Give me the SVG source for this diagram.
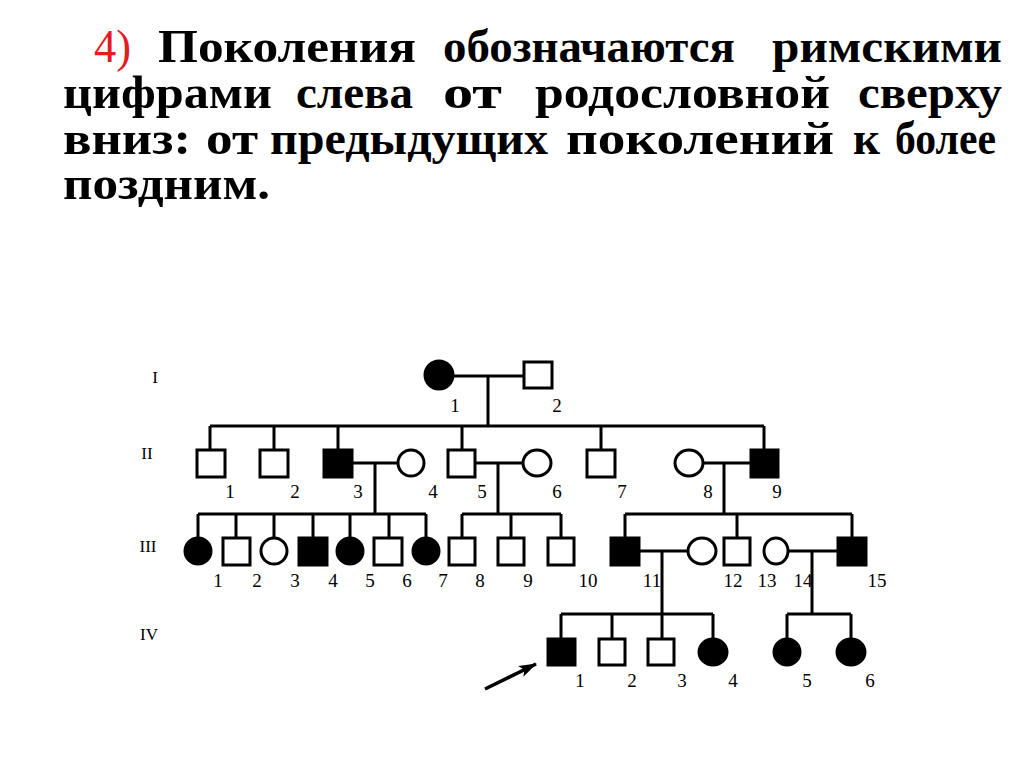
<svg xmlns="http://www.w3.org/2000/svg" width="1024" height="768" viewBox="0 0 1024 768">
<style>
.t{font-family:"Liberation Serif",serif;font-weight:bold;font-size:46px;fill:#000}
.red{fill:#e31b23;font-weight:normal}
.g{font-family:"Liberation Serif",serif;font-size:17px;fill:#000}
.n{font-family:"Liberation Serif",serif;font-size:19px;fill:#000}
.ln{stroke:#000;stroke-width:3;fill:none}
.o{fill:#fff;stroke:#000;stroke-width:3}
.f{fill:#000;stroke:#000;stroke-width:3}
</style>
<defs>
<marker id="ah" markerWidth="18" markerHeight="12" refX="17" refY="6" orient="auto" markerUnits="userSpaceOnUse"><path d="M0,0 L18,6 L0,12 L4,6 Z" fill="#000"/></marker>
</defs>
<rect width="1024" height="768" fill="#fff"/>
<g id="title">
<text class="t red" x="94" y="62" textLength="37" lengthAdjust="spacingAndGlyphs">4)</text>
<text class="t" x="158" y="62" textLength="258" lengthAdjust="spacingAndGlyphs">Поколения</text>
<text class="t" x="443" y="62" textLength="292" lengthAdjust="spacingAndGlyphs">обозначаются</text>
<text class="t" x="772" y="62" textLength="230" lengthAdjust="spacingAndGlyphs">римскими</text>
<text class="t" x="63" y="108" textLength="209" lengthAdjust="spacingAndGlyphs">цифрами</text>
<text class="t" x="296" y="108" textLength="117" lengthAdjust="spacingAndGlyphs">слева</text>
<text class="t" x="443" y="108" textLength="59" lengthAdjust="spacingAndGlyphs">от</text>
<text class="t" x="535" y="108" textLength="295" lengthAdjust="spacingAndGlyphs">родословной</text>
<text class="t" x="858" y="108" textLength="144" lengthAdjust="spacingAndGlyphs">сверху</text>
<text class="t" x="63" y="154" textLength="128" lengthAdjust="spacingAndGlyphs">вниз:</text>
<text class="t" x="206" y="154" textLength="52" lengthAdjust="spacingAndGlyphs">от</text>
<text class="t" x="270" y="154" textLength="278" lengthAdjust="spacingAndGlyphs">предыдущих</text>
<text class="t" x="566" y="154" textLength="268" lengthAdjust="spacingAndGlyphs">поколений</text>
<text class="t" x="853" y="154" textLength="27" lengthAdjust="spacingAndGlyphs">к</text>
<text class="t" x="895" y="154" textLength="101" lengthAdjust="spacingAndGlyphs">более</text>
<text class="t" x="63" y="199" textLength="207" lengthAdjust="spacingAndGlyphs">поздним.</text>
</g>
<g id="generations">
<text class="g" x="155" y="383" text-anchor="middle">I</text>
<text class="g" x="147" y="459" text-anchor="middle">II</text>
<text class="g" x="148" y="552" text-anchor="middle">III</text>
<text class="g" x="149" y="640" text-anchor="middle">IV</text>
</g>
<g id="connectors" class="ln">
<path d="M453 376 H524 M488 376 V426"/>
<path d="M210 426 H764 M210 426 V450 M274 426 V450 M338 426 V450 M462 426 V450 M601 426 V450 M764 426 V450"/>
<path d="M353 463 H398 M375 463 V514"/>
<path d="M475 463 H523 M498 463 V514"/>
<path d="M703 463 H750 M724 463 V514"/>
<path d="M198 514 H426 M198 514 V537 M236 514 V538 M274 514 V537 M313 514 V537 M350 514 V537 M389 514 V538 M426 514 V537"/>
<path d="M462 514 H561 M462 514 V538 M511 514 V538 M561 514 V538"/>
<path d="M625 514 H852 M625 514 V538 M737 514 V538 M852 514 V538"/>
<path d="M639 551 H688 M662 551 V614"/>
<path d="M788 551 H838 M812 551 V614"/>
<path d="M561 614 H713 M561 614 V638 M612 614 V638 M662 614 V638 M713 614 V638"/>
<path d="M787 614 H851 M787 614 V638 M851 614 V638"/>
<path d="M485 689 L536 664" stroke-width="3.5" marker-end="url(#ah)"/>
</g>
<g id="I-1"><circle class="f" cx="439" cy="375" r="14"/><text class="n" x="455" y="412" text-anchor="middle">1</text></g>
<g id="I-2"><rect class="o" x="524" y="362" width="28" height="26"/><text class="n" x="557" y="412" text-anchor="middle">2</text></g>
<g id="II-1"><rect class="o" x="197" y="450" width="28" height="27"/><text class="n" x="230" y="498" text-anchor="middle">1</text></g>
<g id="II-2"><rect class="o" x="260" y="450" width="28" height="27"/><text class="n" x="295" y="498" text-anchor="middle">2</text></g>
<g id="II-3"><rect class="f" x="324" y="450" width="28" height="27"/><text class="n" x="358" y="498" text-anchor="middle">3</text></g>
<g id="II-4"><ellipse class="o" cx="411" cy="463" rx="13" ry="13"/><text class="n" x="433" y="498" text-anchor="middle">4</text></g>
<g id="II-5"><rect class="o" x="448" y="450" width="27" height="27"/><text class="n" x="482" y="498" text-anchor="middle">5</text></g>
<g id="II-6"><ellipse class="o" cx="537" cy="463" rx="14" ry="13"/><text class="n" x="557" y="498" text-anchor="middle">6</text></g>
<g id="II-7"><rect class="o" x="587" y="450" width="28" height="27"/><text class="n" x="622" y="498" text-anchor="middle">7</text></g>
<g id="II-8"><ellipse class="o" cx="689" cy="463" rx="14" ry="13"/><text class="n" x="708" y="498" text-anchor="middle">8</text></g>
<g id="II-9"><rect class="f" x="751" y="450" width="27" height="27"/><text class="n" x="777" y="498" text-anchor="middle">9</text></g>
<g id="III-1"><circle class="f" cx="198" cy="551" r="13"/><text class="n" x="218" y="587" text-anchor="middle">1</text></g>
<g id="III-2"><rect class="o" x="223" y="538" width="27" height="27"/><text class="n" x="257" y="587" text-anchor="middle">2</text></g>
<g id="III-3"><circle class="o" cx="274" cy="551" r="13"/><text class="n" x="295" y="587" text-anchor="middle">3</text></g>
<g id="III-4"><rect class="f" x="299" y="538" width="28" height="27"/><text class="n" x="333" y="587" text-anchor="middle">4</text></g>
<g id="III-5"><circle class="f" cx="350" cy="551" r="13"/><text class="n" x="370" y="587" text-anchor="middle">5</text></g>
<g id="III-6"><rect class="o" x="374" y="538" width="28" height="27"/><text class="n" x="407" y="587" text-anchor="middle">6</text></g>
<g id="III-7"><circle class="f" cx="426" cy="551" r="13"/><text class="n" x="443" y="587" text-anchor="middle">7</text></g>
<g id="III-8"><rect class="o" x="449" y="538" width="26" height="27"/><text class="n" x="480" y="587" text-anchor="middle">8</text></g>
<g id="III-9"><rect class="o" x="498" y="538" width="26" height="27"/><text class="n" x="528" y="587" text-anchor="middle">9</text></g>
<g id="III-10"><rect class="o" x="548" y="538" width="26" height="27"/><text class="n" x="588" y="587" text-anchor="middle">10</text></g>
<g id="III-11"><rect class="f" x="611" y="538" width="28" height="27"/><text class="n" x="652" y="587" text-anchor="middle">11</text></g>
<g id="III-12"><ellipse class="o" cx="702" cy="551" rx="14" ry="13"/><text class="n" x="733" y="587" text-anchor="middle">12</text></g>
<g id="III-13"><rect class="o" x="724" y="538" width="26" height="27"/><text class="n" x="767" y="587" text-anchor="middle">13</text></g>
<g id="III-14"><ellipse class="o" cx="776" cy="551" rx="12" ry="13"/><text class="n" x="803" y="587" text-anchor="middle">14</text></g>
<g id="III-15"><rect class="f" x="838" y="538" width="28" height="27"/><text class="n" x="877" y="587" text-anchor="middle">15</text></g>
<g id="IV-1"><rect class="f" x="548" y="639" width="27" height="26"/><text class="n" x="580" y="687" text-anchor="middle">1</text></g>
<g id="IV-2"><rect class="o" x="599" y="639" width="26" height="26"/><text class="n" x="632" y="687" text-anchor="middle">2</text></g>
<g id="IV-3"><rect class="o" x="648" y="639" width="26" height="26"/><text class="n" x="682" y="687" text-anchor="middle">3</text></g>
<g id="IV-4"><ellipse class="f" cx="713" cy="652" rx="14" ry="13"/><text class="n" x="733" y="687" text-anchor="middle">4</text></g>
<g id="IV-5"><ellipse class="f" cx="787" cy="652" rx="13" ry="13"/><text class="n" x="807" y="687" text-anchor="middle">5</text></g>
<g id="IV-6"><ellipse class="f" cx="851" cy="652" rx="14" ry="13"/><text class="n" x="870" y="687" text-anchor="middle">6</text></g>
</svg>
